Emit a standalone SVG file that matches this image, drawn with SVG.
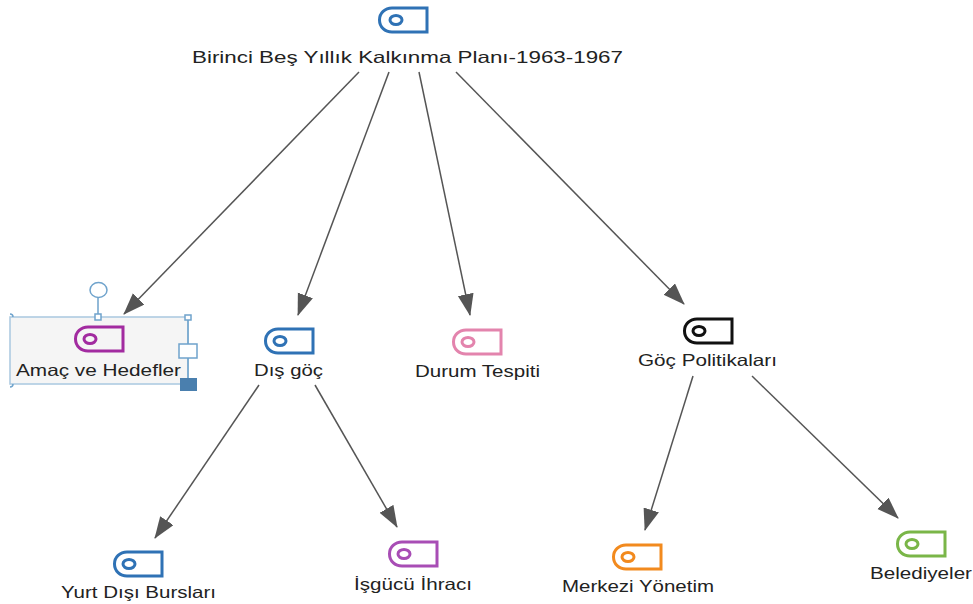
<svg xmlns="http://www.w3.org/2000/svg" width="973" height="604" viewBox="0 0 973 604">
<style>
text{font-family:"Liberation Sans",Arial,sans-serif;font-size:16.5px;fill:#222;text-anchor:middle;stroke:none}
.conn{stroke:#555;stroke-width:1.5;fill:none;marker-end:url(#a)}
.tag{fill:none;stroke-width:3}
.h{fill:#fff;stroke:#6fa3cc;stroke-width:1.5}
</style>
<defs>
<marker id="a" markerUnits="userSpaceOnUse" markerWidth="24" markerHeight="18" refX="21" refY="8" orient="auto"><path d="M0 0L22 8L0 16Z" fill="#555"/></marker>
<path id="t" d="M14 1H49V25H14C7 25 1.500 20 1.500 13S7 1 14 1Z"/>
<ellipse id="o" cx="15" cy="13" rx="6" ry="4.500"/>
</defs>
<rect width="973" height="604" fill="#fff"/>
<g id="connectors">
<path class="conn" d="M359 72L124 314"/>
<path class="conn" d="M389 72L298 315"/>
<path class="conn" d="M419 72L470 315"/>
<path class="conn" d="M456 72L684 304"/>
<path class="conn" d="M259 385L155 538"/>
<path class="conn" d="M315 385L397 527"/>
<path class="conn" d="M693 376L645 530"/>
<path class="conn" d="M752 376L898 518"/>
</g>
<g id="selection">
<rect x="10" y="317" width="178" height="67" fill="#f5f5f5" stroke="#a9c8e0" stroke-width="1.500"/>
<path d="M98 317V297M188 317V384" stroke="#6fa3cc" stroke-width="1.500" fill="none"/>
<ellipse class="h" cx="98.500" cy="290" rx="8.500" ry="7.500"/>
<rect class="h" x="95" y="314" width="6" height="6"/>
<rect class="h" x="185" y="315" width="6" height="5"/>
<rect class="h" x="179" y="344" width="18" height="14"/>
<rect x="180" y="378" width="17" height="13" fill="#4a7fae"/>
<path d="M10 314a3 3 0 0 1 3 3M10 387a3 3 0 0 0 3-3" fill="none" stroke="#6fa3cc" stroke-width="1.500"/>
</g>
<g id="n1" stroke="#2f72b5"><use href="#t" x="378" y="7" class="tag"/><use href="#o" x="381" y="7" class="tag" stroke-width="2.500"/><text x="407.500" y="63" textLength="431" lengthAdjust="spacingAndGlyphs">Birinci Beş Yıllık Kalkınma Planı-1963-1967</text></g>
<g id="n2" stroke="#a22ba0"><use href="#t" x="74" y="326" class="tag"/><use href="#o" x="75" y="326" class="tag"/><text x="98.500" y="376" textLength="165" lengthAdjust="spacingAndGlyphs">Amaç ve Hedefler</text></g>
<g id="n3" stroke="#2f72b5"><use href="#t" x="264" y="328" class="tag"/><use href="#o" x="265" y="328" class="tag"/><text x="288.500" y="376" textLength="69" lengthAdjust="spacingAndGlyphs">Dış göç</text></g>
<g id="n4" stroke="#e384ad"><use href="#t" x="452" y="329" class="tag"/><use href="#o" x="453" y="329" class="tag"/><text x="477.500" y="377" textLength="125" lengthAdjust="spacingAndGlyphs">Durum Tespiti</text></g>
<g id="n5" stroke="#111"><use href="#t" x="683" y="318" class="tag"/><use href="#o" x="684" y="318" class="tag"/><text x="707.500" y="366" textLength="139" lengthAdjust="spacingAndGlyphs">Göç Politikaları</text></g>
<g id="n6" stroke="#2f72b5"><use href="#t" x="113" y="551" class="tag"/><use href="#o" x="114" y="551" class="tag"/><text x="138.500" y="598" textLength="155" lengthAdjust="spacingAndGlyphs">Yurt Dışı Bursları</text></g>
<g id="n7" stroke="#a84db5"><use href="#t" x="388" y="541" class="tag"/><use href="#o" x="389" y="541" class="tag"/><text x="413" y="590" textLength="118" lengthAdjust="spacingAndGlyphs">İşgücü İhracı</text></g>
<g id="n8" stroke="#f28a1e"><use href="#t" x="612" y="544" class="tag"/><use href="#o" x="613" y="544" class="tag"/><text x="638" y="592" textLength="152" lengthAdjust="spacingAndGlyphs">Merkezi Yönetim</text></g>
<g id="n9" stroke="#7ab648"><use href="#t" x="896" y="531" class="tag"/><use href="#o" x="897" y="531" class="tag"/><text x="921" y="579" textLength="102" lengthAdjust="spacingAndGlyphs">Belediyeler</text></g>
</svg>
